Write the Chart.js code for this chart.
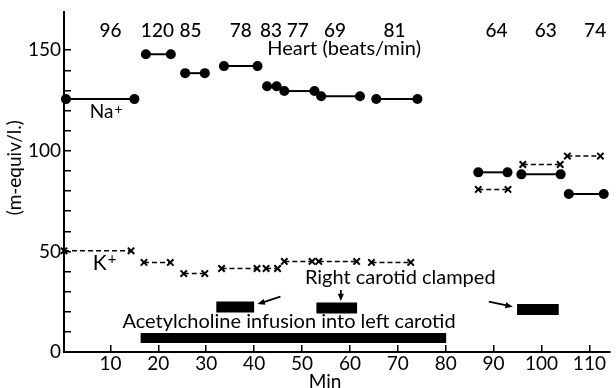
<!DOCTYPE html>
<html>
<head>
<meta charset="utf-8">
<script src="https://cdn.jsdelivr.net/npm/chart.js@4/dist/chart.umd.min.js"></script>
<style>
  html, body { margin: 0; padding: 0; background: #fff; }
  #wrap { width: 616px; height: 388px; position: relative; }
</style>
</head>
<body>
<div id="wrap"><canvas id="chart"></canvas></div>
<script>
// heart rate (beats/min) written over each sampling period
const heartRates = ['96', '120', '85', '78', '83', '77', '69', '81', '64', '63', '74'];
const heartMin = [10.0, 19.8, 26.7, 37.2, 43.5, 49.1, 56.9, 69.3, 90.6, 100.9, 111.2];

// Na+ (m-equiv/l.) : start min, end min, level
const naStart = [0.7, 17.4, 25.6, 33.7, 42.7, 46.3, 54.0, 65.5, 86.8, 95.8, 105.7];
const naEnd = [15.0, 22.6, 29.7, 40.7, 44.7, 52.6, 62.1, 74.1, 92.9, 104.0, 113.0];
const naValues = [125.7, 148.0, 138.6, 142.1, 132.1, 129.7, 127.1, 125.8, 89.3, 88.3, 78.5];

// K+ (m-equiv/l.)
const kStart = [0.3, 17.0, 25.3, 33.2, 42.5, 46.3, 53.5, 64.5, 86.8, 96.1, 105.4];
const kEnd = [14.3, 22.5, 29.7, 40.6, 44.9, 52.1, 61.4, 72.7, 93.0, 103.9, 112.3];
const kValues = [50.3, 44.5, 39.0, 41.5, 41.5, 45.0, 45.0, 44.5, 80.8, 93.2, 97.4];

// acetylcholine infusion (min) and right carotid clamped periods (min)
const infusion = [16.3, 80.1];
const clampStart = [32.1, 53.0, 94.9];
const clampEnd = [40.0, 61.5, 103.6];
const clampLevel = [22.4, 21.9, 21.1];

const xTicks = [10, 20, 30, 40, 50, 60, 70, 80, 90, 100, 110];
const yTicks = [0, 10, 20, 30, 40, 50, 60, 70, 80, 90, 100, 110, 120, 130, 140, 150];

const FONT = 'Lato, "DejaVu Sans", sans-serif';

function arrow(ctx, x1, y1, x2, y2) {
  const a = Math.atan2(y2 - y1, x2 - x1);
  ctx.beginPath();
  ctx.moveTo(x1, y1);
  ctx.lineTo(x2 - 4 * Math.cos(a), y2 - 4 * Math.sin(a));
  ctx.lineWidth = 1.8;
  ctx.stroke();
  ctx.beginPath();
  ctx.moveTo(x2, y2);
  ctx.lineTo(x2 - 8 * Math.cos(a - 0.4), y2 - 8 * Math.sin(a - 0.4));
  ctx.lineTo(x2 - 8 * Math.cos(a + 0.4), y2 - 8 * Math.sin(a + 0.4));
  ctx.closePath();
  ctx.fill();
}

const textPlugin = {
  id: 'texts',
  afterDatasetsDraw(chart) {
    const ctx = chart.ctx;
    const x = chart.scales.x, y = chart.scales.y;
    const px = v => x.getPixelForValue(v);
    const py = v => y.getPixelForValue(v);
    ctx.save();
    ctx.fillStyle = '#000';
    ctx.strokeStyle = '#000';
    ctx.textBaseline = 'middle';

    ctx.font = '500 19px ' + FONT;
    ctx.textAlign = 'center';
    heartRates.forEach((t, i) => ctx.fillText(t, px(heartMin[i]), py(159.5)));
    ctx.font = '20px ' + FONT;
    ctx.fillText('Heart (beats/min)', px(58.8), py(151));

    ctx.textAlign = 'left';
    ctx.font = '19px ' + FONT;
    ctx.fillText('Na', px(5.7), py(119.2));
    let w = ctx.measureText('Na').width;
    ctx.font = '14px ' + FONT;
    ctx.fillText('+', px(5.7) + w + 1, py(119.2) - 3);

    ctx.font = '21px ' + FONT;
    ctx.fillText('K', px(6.3), py(44.2));
    w = ctx.measureText('K').width;
    ctx.font = '15px ' + FONT;
    ctx.fillText('+', px(6.3) + w + 1, py(44.2) - 4);

    ctx.font = '20px ' + FONT;
    ctx.fillText('Right carotid clamped', px(50.6), py(36.8));
    ctx.fillText('Acetylcholine infusion into left carotid', px(12.5), py(14.9));

    ctx.textAlign = 'center';
    ctx.font = '19px ' + FONT;
    ctx.fillText('Min', px(54.8), chart.height - 6);

    ctx.save();
    ctx.translate(15, py(91.6));
    ctx.rotate(-Math.PI / 2);
    ctx.font = '19px ' + FONT;
    ctx.fillText('(m-equiv/l.)', 0, 0);
    ctx.restore();

    arrow(ctx, px(45.5), py(27.5), px(40.7), py(23.8));
    arrow(ctx, px(58.1), py(30.8), px(58.1), py(25.3));
    arrow(ctx, px(89.0), py(25.0), px(94.0), py(22.5));
    ctx.restore();
  }
};

const datasets = [];
naStart.forEach((s, i) => {
  datasets.push({
    data: [{ x: s, y: naValues[i] }, { x: naEnd[i], y: naValues[i] }],
    showLine: true, borderColor: '#000', backgroundColor: '#000', borderWidth: 2,
    pointRadius: 5, pointBorderWidth: 0, clip: false
  });
});
kStart.forEach((s, i) => {
  datasets.push({
    data: [{ x: s, y: kValues[i] }, { x: kEnd[i], y: kValues[i] }],
    showLine: true, borderColor: '#000', backgroundColor: '#000', borderWidth: 1.6,
    borderDash: [5, 3], pointStyle: 'crossRot', pointRadius: 4.5, pointBorderWidth: 2, clip: false
  });
});
datasets.push({
  data: [{ x: infusion[0], y: 7 }, { x: infusion[1], y: 7 }],
  showLine: true, borderColor: '#000', borderWidth: 10, borderCapStyle: 'butt', pointRadius: 0
});
clampStart.forEach((s, i) => {
  datasets.push({
    data: [{ x: s, y: clampLevel[i] }, { x: clampEnd[i], y: clampLevel[i] }],
    showLine: true, borderColor: '#000', borderWidth: 11, borderCapStyle: 'butt', pointRadius: 0
  });
});

new Chart(document.getElementById('chart'), {
  type: 'scatter',
  data: { datasets: datasets },
  options: {
    responsive: true,
    maintainAspectRatio: false,
    animation: false,
    devicePixelRatio: 1,
    layout: { padding: { top: 12, right: 0, bottom: 0, left: 0 } },
    plugins: { legend: { display: false }, tooltip: { enabled: false } },
    scales: {
      x: {
        type: 'linear', min: 0.3, max: 114.2,
        afterBuildTicks(s) { s.ticks = xTicks.map(v => ({ value: v })); },
        afterFit(s) { s.height = 36; s.paddingLeft = 0; s.paddingRight = 0; },
        ticks: { color: '#000', font: { family: FONT, size: 19 }, padding: 7, maxRotation: 0, autoSkip: false },
        grid: { drawOnChartArea: false, tickLength: -7, color: '#000', lineWidth: 1.5 },
        border: { color: '#000', width: 2 }
      },
      y: {
        min: 0, max: 169,
        afterBuildTicks(s) { s.ticks = yTicks.map(v => ({ value: v })); },
        afterFit(s) { s.width = 64; s.paddingTop = 0; s.paddingBottom = 0; },
        ticks: {
          color: '#000', font: { family: FONT, size: 19 }, padding: 10, autoSkip: false,
          callback: v => (v % 50 === 0 ? v : '')
        },
        grid: { drawOnChartArea: false, tickLength: -7, color: '#000', lineWidth: 1.5 },
        border: { color: '#000', width: 2 }
      }
    }
  },
  plugins: [textPlugin]
});
</script>
</body>
</html>
